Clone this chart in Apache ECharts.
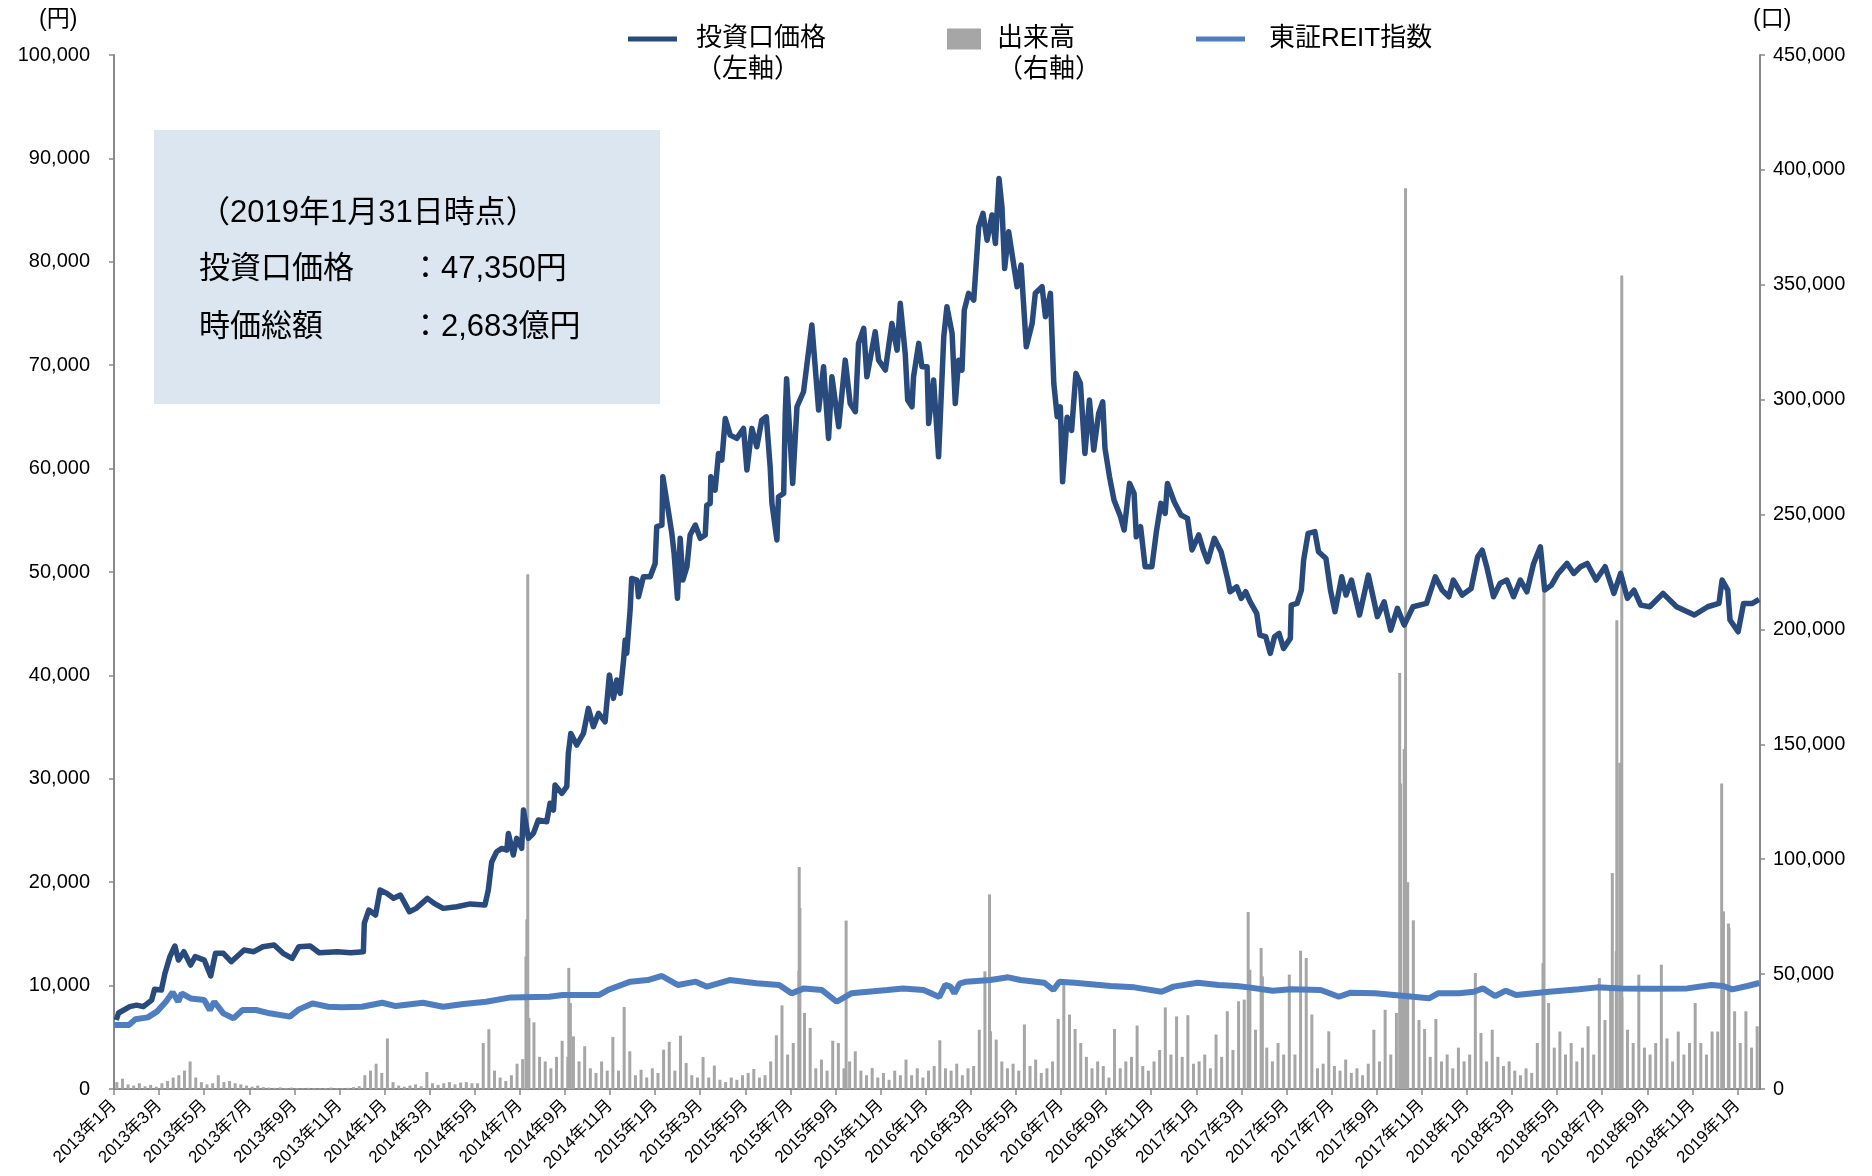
<!DOCTYPE html>
<html>
<head>
<meta charset="utf-8">
<script src="https://cdn.jsdelivr.net/npm/echarts@6/dist/echarts.min.js"></script>
<style>
html,body{margin:0;padding:0;background:#ffffff;}
#chart{width:1872px;height:1176px;}
</style>
</head>
<body>
<div id="chart"></div>
<script>
// ---- x axis: months counted from 2013年1月 (0 = start of Jan 2013) ----
const xTickLabels = [
  '2013年1月','2013年3月','2013年5月','2013年7月','2013年9月','2013年11月',
  '2014年1月','2014年3月','2014年5月','2014年7月','2014年9月','2014年11月',
  '2015年1月','2015年3月','2015年5月','2015年7月','2015年9月','2015年11月',
  '2016年1月','2016年3月','2016年5月','2016年7月','2016年9月','2016年11月',
  '2017年1月','2017年3月','2017年5月','2017年7月','2017年9月','2017年11月',
  '2018年1月','2018年3月','2018年5月','2018年7月','2018年9月','2018年11月',
  '2019年1月'
];

// ---- 投資口価格 (円) : [month, price] ----
const priceSeries = [
  [0.1,6670],[0.2,7350],[0.7,7960],[1.0,8110],[1.3,7960],[1.67,8600],[1.8,9640],[2.1,9570],
  [2.26,11190],[2.48,12800],[2.7,13830],[2.86,12470],[3.1,13280],[3.4,11990],[3.6,12800],[4.0,12470],
  [4.29,10930],[4.5,13120],[4.85,13120],[5.2,12310],[5.77,13440],[6.2,13280],[6.6,13760],[7.1,13920],
  [7.5,13120],[7.9,12630],[8.2,13760],[8.7,13830],[9.1,13180],[9.9,13280],[10.5,13180],[11.06,13280],
  [11.1,16020],[11.3,17310],[11.6,16830],[11.8,19240],[12.1,18920],[12.4,18440],[12.7,18760],[13.1,17150],
  [13.4,17470],[13.9,18440],[14.2,17950],[14.6,17470],[15.2,17630],[15.8,17900],[16.45,17790],[16.6,19240],
  [16.75,21950],[16.83,22140],[16.97,22950],[17.2,23270],[17.42,23110],[17.49,24720],[17.71,22630],[17.86,24240],
  [18.08,23270],[18.16,26980],[18.38,24240],[18.6,24720],[18.82,26010],[19.19,25850],[19.34,27630],[19.49,26980],
  [19.56,29400],[19.86,28590],[20.08,29240],[20.15,32460],[20.26,34390],[20.52,33260],[20.82,34390],[21.04,36810],
  [21.26,35040],[21.49,36330],[21.78,35520],[21.97,40030],[22.15,37780],[22.3,39550],[22.45,38260],[22.6,41480],
  [22.67,43420],[22.74,42130],[22.89,46320],[22.96,49380],[23.19,49220],[23.26,47610],[23.48,49540],[23.78,49540],
  [24.0,50830],[24.07,54380],[24.3,54540],[24.34,59210],[24.59,55830],[24.74,53740],[24.84,51800],[24.99,47450],
  [25.11,53260],[25.23,49220],[25.41,50510],[25.55,53580],[25.78,54540],[26.0,53260],[26.22,53580],[26.29,56470],
  [26.44,56630],[26.47,59210],[26.66,57920],[26.81,61470],[26.96,60830],[27.11,64850],[27.33,63240],[27.62,62920],
  [27.92,63880],[28.07,59860],[28.29,63880],[28.51,62110],[28.73,64690],[28.93,65010],[29.1,60180],[29.18,56640],
  [29.4,53100],[29.47,57280],[29.7,57600],[29.77,65330],[29.83,68700],[30.1,58570],[30.29,65980],[30.58,67430],
  [30.95,73880],[31.25,65660],[31.47,69850],[31.69,62920],[31.84,68880],[32.14,64050],[32.43,70490],[32.65,66300],
  [32.88,65500],[33.02,72110],[33.25,73560],[33.39,68880],[33.76,73230],[33.91,70490],[34.21,69530],[34.5,74040],
  [34.73,71460],[34.87,75980],[35.09,71140],[35.2,66630],[35.39,65980],[35.46,68880],[35.69,72110],[35.83,69850],
  [36.06,69850],[36.13,64370],[36.35,68560],[36.57,61140],[36.8,72750],[36.94,75650],[37.17,73070],[37.31,66300],
  [37.46,70490],[37.61,69530],[37.71,75330],[37.9,76950],[38.13,76300],[38.35,83380],[38.54,84680],[38.72,82090],
  [38.94,84520],[39.09,81770],[39.25,88060],[39.38,85330],[39.5,79360],[39.68,82900],[40.05,77590],[40.23,79680],
  [40.46,71780],[40.72,74040],[40.86,76950],[41.16,77590],[41.31,74690],[41.53,76950],[41.68,68240],[41.83,65010],
  [41.97,65980],[42.07,58730],[42.27,64970],[42.47,63690],[42.66,69210],[42.86,68240],[43.06,61470],[43.26,66630],
  [43.45,61790],[43.67,65330],[43.85,66460],[43.95,61950],[44.15,59220],[44.35,56960],[44.64,55350],[44.8,54060],
  [45.04,58570],[45.24,57600],[45.34,53410],[45.53,54380],[45.73,50510],[46.03,50510],[46.23,53900],[46.43,56640],
  [46.62,55670],[46.72,58570],[47.02,56800],[47.32,55510],[47.61,55190],[47.81,52130],[48.11,53580],[48.31,52130],
  [48.5,51000],[48.8,53260],[49.1,51960],[49.4,49220],[49.5,48090],[49.79,48570],[49.99,47450],[50.19,48090],
  [50.39,47120],[50.68,46000],[50.82,43900],[51.08,43740],[51.28,42130],[51.47,43740],[51.67,44060],[51.87,42610],
  [52.17,43580],[52.21,46800],[52.47,46960],[52.66,48250],[52.76,51150],[52.96,53740],[53.26,53900],[53.42,51960],
  [53.75,51310],[53.95,48250],[54.15,46160],[54.45,49540],[54.64,47770],[54.88,49220],[55.24,45840],[55.63,49700],
  [56.03,45680],[56.33,47120],[56.62,44380],[56.92,46480],[57.22,44870],[57.61,46640],[58.21,46960],[58.6,49540],
  [58.9,48250],[59.2,47610],[59.4,49220],[59.79,47770],[60.19,48410],[60.48,51470],[60.68,52110],[60.88,50510],
  [61.18,47610],[61.47,48900],[61.77,49220],[62.07,47610],[62.37,49220],[62.66,48090],[62.96,50830],[63.26,52440],
  [63.45,48250],[63.75,48730],[64.05,49860],[64.44,50830],[64.74,49860],[65.04,50510],[65.34,50830],[65.73,49220],
  [66.13,50510],[66.52,47930],[66.82,49860],[67.12,47450],[67.41,48250],[67.71,46800],[68.11,46640],[68.7,47930],
  [69.3,46640],[70.09,45840],[70.68,46640],[71.18,46960],[71.32,49220],[71.57,48250],[71.67,45360],[72.03,44220],
  [72.27,46960],[72.66,46960],[72.96,47350]
];

// ---- 東証REIT指数 (plotted on the left axis) : [month, value] ----
const reitSeries = [
  [0.0,6190],[0.66,6190],[0.95,6740],[1.5,6930],[1.9,7480],[2.3,8440],[2.6,9350],[2.85,8440],
  [3.0,9250],[3.4,8760],[4.0,8600],[4.25,7640],[4.45,8440],[4.85,7320],[5.3,6830],[5.7,7640],
  [6.3,7640],[6.9,7320],[7.8,7000],[8.2,7700],[8.8,8280],[9.5,7960],[10.1,7900],[11.0,7960],
  [11.9,8340],[12.5,8020],[13.7,8340],[14.6,7960],[15.5,8220],[16.5,8440],[17.6,8860],[19.3,8920],
  [19.9,9090],[21.5,9090],[21.9,9570],[22.9,10380],[23.67,10540],[24.3,10930],[25.0,10060],[25.8,10380],
  [26.3,9900],[27.3,10540],[28.5,10220],[29.5,10060],[30.05,9250],[30.6,9730],[31.4,9570],[32.05,8440],
  [32.7,9250],[34.3,9570],[35.0,9730],[35.9,9570],[36.3,9200],[36.6,8900],[36.87,10060],[37.1,9900],
  [37.27,9250],[37.5,10200],[37.8,10380],[38.86,10540],[39.66,10800],[40.2,10540],[41.26,10280],[41.66,9570],
  [41.93,10380],[42.6,10280],[44.19,9960],[45.26,9830],[46.46,9410],[46.99,9900],[48.06,10280],[48.99,10060],
  [49.79,9960],[50.32,9830],[51.39,9510],[52.19,9640],[53.52,9570],[54.32,8920],[54.85,9320],[55.92,9250],
  [57.25,8990],[58.32,8770],[58.72,9250],[59.65,9250],[60.31,9410],[60.71,9730],[61.25,8990],[61.73,9510],
  [62.18,9090],[63.64,9410],[64.98,9640],[65.78,9830],[66.84,9730],[68.17,9700],[69.77,9730],[70.84,10060],
  [71.37,9960],[71.77,9640],[72.44,9960],[72.97,10250]
];

// ---- 出来高 (口) : four weekly readings per month, from 2013年1月 ----
const volumeWeekly = [
  3000,4500,2000,1500,   2500,1200,1800,1000,   2500,3500,5000,6000,   8000,12000,5000,3000,
  2000,2500,6000,3000,   3500,2500,2000,1500,   1000,1500,800,600,     500,700,400,600,
  400,300,500,400,       300,400,600,300,       300,500,800,1200,      6000,8000,11000,7000,
  22000,3000,1500,1000,  1500,2000,1200,7400,   2500,1800,2500,3000,   2000,2800,3000,2500,
  2500,20000,26000,8000, 5000,3500,6000,11000,  13000,30000,29000,14000, 12000,9000,14000,21000,
  14000,22900,12000,18600, 9000,7000,12000,8000, 22600,8000,35700,16400, 6000,8400,5000,9000,
  7000,17100,20500,8000, 23200,11300,6000,5000, 13900,5000,10200,4000, 3000,5000,4000,6000,
  7000,8700,5000,6000,   12000,23400,36400,15000, 20000,51500,33100,26600, 9000,12800,8000,21000,
  20000,9000,12000,16400, 8000,6000,9100,5000,  7000,4000,8000,6000,   12800,6000,9000,5000,
  8000,10000,21200,9000, 8000,11000,6000,9000,  10000,25800,51200,25100, 21500,12000,9000,11000,
  8000,28100,10000,12800, 7000,9000,12000,30500, 45400,32400,26100,20000, 14000,9000,12000,10000,
  5000,26100,9000,12000, 14000,27600,10000,8000, 12000,17000,35500,15000, 31600,14000,32100,11000,
  12000,15000,9000,23700, 14000,33800,17000,38200, 38900,51900,25800,61400, 18000,12000,20000,15000,
  49800,15000,60200,57000, 32400,9000,11000,25100, 10000,8000,12800,7000, 9000,6000,11000,25800,
  12000,34500,15000,33100, 40000,90000,73400,30000, 26100,14000,30500,12000, 15000,9000,18000,12000,
  15000,50500,24400,12000, 25800,14000,10000,12000, 8000,6000,9000,7000, 20000,54800,37400,18000,
  25000,15000,20000,12000, 18000,27300,15000,48300, 30000,43200,60000,40000, 25800,20000,49800,18000,
  15000,20000,54100,22000, 12000,25000,15000,20000, 37400,20000,15000,25000, 25000,45000,70100,33800,
  20000,33800,18000,27300
];
// ---- 出来高 spikes : [month, volume] ----
const volumeSpikes = [
  [18.27,57700],[18.31,73800],[18.35,224000],[18.40,30900],[20.17,52700],[20.24,37400],
  [30.39,96600],[30.42,78800],[32.47,73300],[38.83,84700],[50.30,77000],[50.93,49000],
  [57.02,181000],[57.06,133000],[57.22,148000],[57.28,392000],[63.42,219000],
  [66.45,94000],[66.65,204000],[66.78,142000],[66.87,354000],[71.30,133000],[71.38,77300],[71.60,72000]
];

const infoTitle = '（2019年1月31日時点）';
const infoRows = [['投資口価格', '：47,350円'], ['時価総額', '：2,683億円']];

const FONT = "'Liberation Sans', Arial, 'Noto Sans CJK JP', sans-serif";
const C_PRICE = '#294A7C';
const C_REIT = '#4F7EC0';
const C_VOL = '#A6A6A6';
const C_AXIS = '#898989';

const volumeData = volumeWeekly
  .map((v, i) => [Math.floor(i / 4) + ((i % 4) + 0.5) / 4, v])
  .concat(volumeSpikes);

const commas = v => String(v).replace(/\B(?=(\d{3})+(?!\d))/g, ',');

const chart = echarts.init(document.getElementById('chart'), null, {renderer: 'canvas'});

const legendText = {fontSize: 26, color: '#000', fontFamily: FONT};

const option = {
  animation: false,
  backgroundColor: '#ffffff',
  textStyle: {fontFamily: FONT},
  grid: {left: 114, right: 112, top: 55, bottom: 87, containLabel: false, outerBoundsMode: 'none'},
  legend: [
    {left: 628, top: 26, padding: 0, selectedMode: false, itemWidth: 49, itemHeight: 5,
     data: [{name: '投資口価格', icon: 'rect', itemStyle: {color: C_PRICE}}],
     textStyle: Object.assign({padding: [0, 0, 0, 14]}, legendText)},
    {left: 947, top: 26, padding: 0, selectedMode: false, itemWidth: 34, itemHeight: 21,
     data: [{name: '出来高', icon: 'rect', itemStyle: {color: C_VOL}}],
     textStyle: Object.assign({padding: [0, 0, 0, 11]}, legendText)},
    {left: 1196, top: 26, padding: 0, selectedMode: false, itemWidth: 49, itemHeight: 5,
     data: [{name: '東証REIT指数', icon: 'rect', itemStyle: {color: C_REIT}}],
     textStyle: Object.assign({padding: [0, 0, 0, 19]}, legendText)}
  ],
  xAxis: {
    type: 'value', min: 0, max: 73, interval: 2,
    axisLine: {show: true, lineStyle: {color: C_AXIS, width: 2}},
    axisTick: {show: true, length: 6, lineStyle: {color: C_AXIS, width: 1.5}},
    splitLine: {show: false},
    axisLabel: {
      rotate: 45, fontSize: 17, color: '#000', margin: 14, fontFamily: FONT,
      showMaxLabel: false,
      formatter: v => (v % 2 === 0 ? (xTickLabels[v / 2] || '') : '')
    }
  },
  yAxis: [
    {type: 'value', position: 'left', min: 0, max: 100000, interval: 10000,
     axisLine: {show: true, lineStyle: {color: C_AXIS, width: 2}},
     axisTick: {show: true, length: 5, lineStyle: {color: C_AXIS, width: 1.5}},
     splitLine: {show: false},
     axisLabel: {fontSize: 20, color: '#000', margin: 24, fontFamily: FONT, formatter: commas}},
    {type: 'value', position: 'right', min: 0, max: 450000, interval: 50000,
     axisLine: {show: true, lineStyle: {color: C_AXIS, width: 2}},
     axisTick: {show: true, length: 5, lineStyle: {color: C_AXIS, width: 1.5}},
     splitLine: {show: false},
     axisLabel: {fontSize: 20, color: '#000', margin: 13, fontFamily: FONT, formatter: commas}}
  ],
  series: [
    {name: '出来高', type: 'bar', xAxisIndex: 0, yAxisIndex: 1, data: volumeData,
     barWidth: 3, itemStyle: {color: C_VOL}, z: 1},
    {name: '東証REIT指数', type: 'line', yAxisIndex: 0, data: reitSeries,
     showSymbol: false, symbol: 'none', lineStyle: {color: C_REIT, width: 6},
     itemStyle: {color: C_REIT}, z: 2},
    {name: '投資口価格', type: 'line', yAxisIndex: 0, data: priceSeries,
     showSymbol: false, symbol: 'none', lineStyle: {color: C_PRICE, width: 5.5, join: 'round'},
     itemStyle: {color: C_PRICE}, z: 3}
  ],
  graphic: [
    {type: 'text', left: 39, top: 8, style: {text: '(円)', fontSize: 23, fontFamily: FONT, fill: '#000'}},
    {type: 'text', left: 1753, top: 8, style: {text: '(口)', fontSize: 23, fontFamily: FONT, fill: '#000'}},
    {type: 'text', x: 696, y: 70, style: {text: '（左軸）', fontSize: 26, fontFamily: FONT, fill: '#000', verticalAlign: 'middle'}},
    {type: 'text', x: 997, y: 70, style: {text: '（右軸）', fontSize: 26, fontFamily: FONT, fill: '#000', verticalAlign: 'middle'}},
    {type: 'rect', x: 154, y: 130, shape: {width: 506, height: 274}, style: {fill: '#DCE6F1'}, z: 0},
    {type: 'text', x: 199, y: 213, style: {text: infoTitle, fontSize: 31, fontFamily: FONT, fill: '#000', verticalAlign: 'middle'}},
    {type: 'text', x: 199, y: 269, style: {text: infoRows[0][0], fontSize: 31, fontFamily: FONT, fill: '#000', verticalAlign: 'middle'}},
    {type: 'text', x: 410, y: 269, style: {text: infoRows[0][1], fontSize: 31, fontFamily: FONT, fill: '#000', verticalAlign: 'middle'}},
    {type: 'text', x: 199, y: 327, style: {text: infoRows[1][0], fontSize: 31, fontFamily: FONT, fill: '#000', verticalAlign: 'middle'}},
    {type: 'text', x: 410, y: 327, style: {text: infoRows[1][1], fontSize: 31, fontFamily: FONT, fill: '#000', verticalAlign: 'middle'}}
  ]
};
chart.setOption(option);
</script>
</body>
</html>
